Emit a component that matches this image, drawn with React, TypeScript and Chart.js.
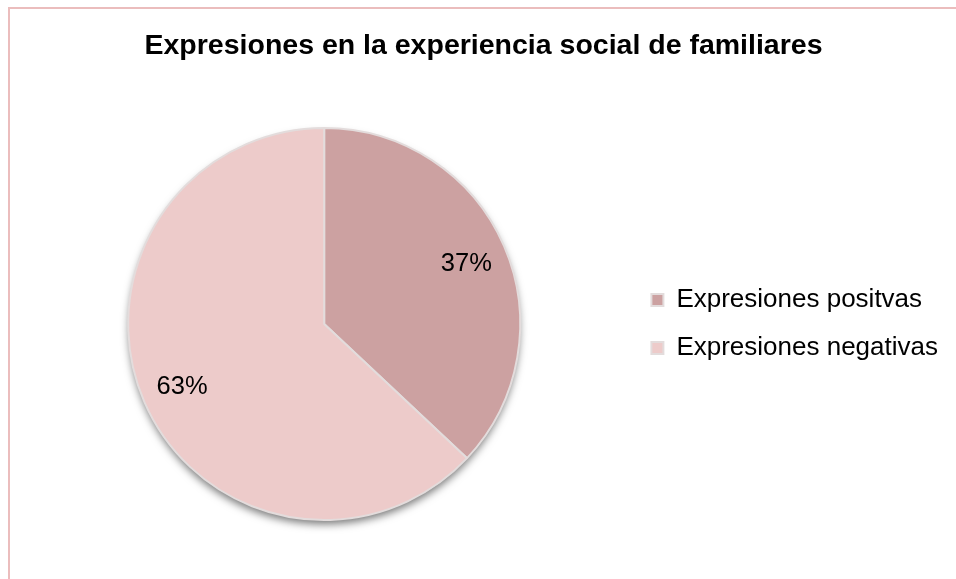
import React, { useEffect, useRef } from "react";
import { Chart, registerables } from "chart.js";

Chart.register(...registerables);

const categories = ["Expresiones positvas", "Expresiones negativas"];
const values = [37, 63];
const percentLabels = ["37%", "63%"];
const sliceColors = ["#CCA1A1", "#EDCBCA"];
const titleText = "Expresiones en la experiencia social de familiares";

const FONT = "'Liberation Sans', Arial, sans-serif";

const shadowPlugin = {
  id: "pieShadow",
  beforeDatasetsDraw(chart: any) {
    const meta = chart.getDatasetMeta(0);
    if (!meta || !meta.data.length) return;
    const arc: any = meta.data[0];
    const { x, y, outerRadius } = arc.getProps(["x", "y", "outerRadius"], true);
    const ctx = chart.ctx;
    ctx.save();
    ctx.shadowColor = "rgba(0,0,0,0.55)";
    ctx.shadowBlur = 9;
    ctx.shadowOffsetX = 0;
    ctx.shadowOffsetY = 5;
    ctx.beginPath();
    ctx.arc(x, y, outerRadius - 1, 0, Math.PI * 2);
    ctx.fillStyle = "#dddddd";
    ctx.fill();
    ctx.restore();
  },
};

const labelPlugin = {
  id: "sliceLabels",
  afterDatasetsDraw(chart: any) {
    const meta = chart.getDatasetMeta(0);
    const ctx = chart.ctx;
    ctx.save();
    ctx.font = `25.5px ${FONT}`;
    ctx.fillStyle = "#000000";
    ctx.textAlign = "center";
    ctx.textBaseline = "middle";
    meta.data.forEach((el: any, i: number) => {
      const { x, y, startAngle, endAngle, outerRadius } = el.getProps(
        ["x", "y", "startAngle", "endAngle", "outerRadius"],
        true
      );
      const mid = (startAngle + endAngle) / 2;
      const r = outerRadius * 0.79;
      ctx.fillText(percentLabels[i], x + Math.cos(mid) * r, y + Math.sin(mid) * r + 1);
    });
    ctx.restore();
  },
};

export default function App() {
  const canvasRef = useRef<HTMLCanvasElement | null>(null);

  useEffect(() => {
    if (!canvasRef.current) return;
    const chart = new Chart(canvasRef.current, {
      type: "pie",
      data: {
        labels: categories,
        datasets: [
          {
            data: values,
            backgroundColor: sliceColors,
            borderColor: "#E3DCDC",
            borderWidth: 2,
          },
        ],
      },
      options: {
        responsive: false,
        animation: false,
        layout: { padding: { left: 19, right: 8, top: 0, bottom: 58 } },
        plugins: {
          tooltip: { enabled: false },
          title: {
            display: true,
            text: titleText,
            color: "#000000",
            font: { family: FONT, size: 28.5, weight: "bold" },
            padding: { top: 29, bottom: 63.8 },
          },
          legend: {
            display: true,
            position: "right",
            align: "center",
            fullSize: false,
            labels: {
              color: "#000000",
              font: { family: FONT, size: 26 },
              boxWidth: 12,
              boxHeight: 12,
              padding: 22,
            },
          },
        },
      },
      plugins: [shadowPlugin, labelPlugin],
    });
    return () => chart.destroy();
  }, []);

  return (
    <div
      style={{
        position: "absolute",
        left: 0,
        top: 0,
        width: 956,
        height: 579,
        overflow: "hidden",
        background: "#ffffff",
      }}
    >
      <div
        style={{
          position: "absolute",
          left: 8,
          top: 7,
          width: 1200,
          height: 1200,
          borderLeft: "2px solid #EBBDBD",
          borderTop: "2px solid #EBBDBD",
        }}
      />
      <canvas
        ref={canvasRef}
        width={956}
        height={579}
        style={{ position: "absolute", left: 0, top: 0 }}
      />
    </div>
  );
}
